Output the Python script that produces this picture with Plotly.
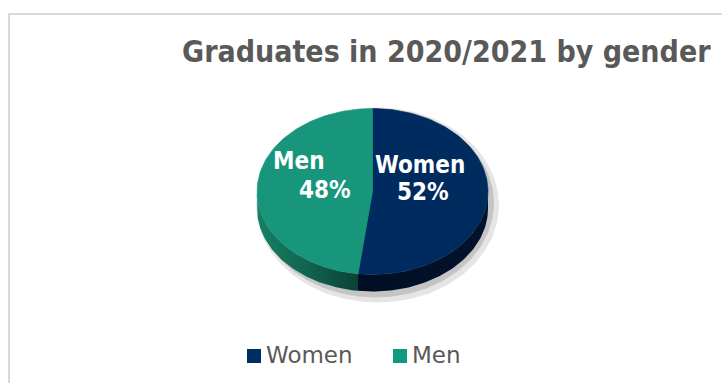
import numpy as np
import plotly.graph_objects as go

# ---- data ----
categories = ["Women", "Men"]
values = [52, 48]
top_colors = ["#002B5E", "#17967B"]
legend_colors = ["#002D62", "#129A80"]
side_scales = [
    [[0, "#010E22"], [1, "#03132C"]],
    [[0, "#178066"], [0.5, "#11634F"], [1, "#0B4236"]],
]
title_text = "Graduates in 2020/2021 by gender"

# ---- geometry (pixel space) ----
W, H = 722, 383
cx, cy, rx, ry, depth = 372.5, 191.5, 115.5, 83.0, 17.0

def pt(phi, dy=0.0):
    r = np.radians(phi)
    return cx + rx * np.sin(r), cy - ry * np.cos(r) + dy

total = float(sum(values))
bounds = [0.0]
for v in values:
    bounds.append(bounds[-1] + v / total * 360.0)

fig = go.Figure()

# soft shadow
for off, op, grow in [(5, 0.10, 6), (3, 0.14, 3)]:
    t = np.linspace(0, 360, 200)
    xs = cx + off + (rx + grow) * np.sin(np.radians(t))
    ys = cy + depth / 2 + off + (ry + depth / 2 + grow) * np.cos(np.radians(t))
    fig.add_trace(go.Scatter(x=xs, y=ys, fill="toself", mode="lines",
                             line=dict(width=0), fillcolor=f"rgba(0,0,0,{op})",
                             hoverinfo="skip", showlegend=False))

# sides (front visible part: 90..270 degrees)
for i in range(len(values)):
    a0, a1 = max(bounds[i], 90.0), min(bounds[i + 1], 270.0)
    if a1 <= a0:
        continue
    t = np.linspace(a0, a1, 80)
    x_top, y_top = pt(t)
    x_bot, y_bot = pt(t[::-1], depth)
    xs = np.concatenate([x_top, x_bot, x_top[:1]])
    ys = np.concatenate([y_top, y_bot, y_top[:1]])
    fig.add_trace(go.Scatter(x=xs, y=ys, fill="toself", mode="lines",
                             line=dict(width=0),
                             fillgradient=dict(type="horizontal", colorscale=side_scales[i]),
                             hoverinfo="skip", showlegend=False))

# top faces
for i in range(len(values)):
    t = np.linspace(bounds[i], bounds[i + 1], 120)
    xa, ya = pt(t)
    xs = np.concatenate([[cx], xa, [cx]])
    ys = np.concatenate([[cy], ya, [cy]])
    fig.add_trace(go.Scatter(x=xs, y=ys, fill="toself", mode="lines",
                             line=dict(width=0.6, color=top_colors[i]), fillcolor=top_colors[i],
                             name=categories[i], hoverinfo="skip", showlegend=False))

# data labels
label_font = dict(family="DejaVu Sans Condensed, DejaVu Sans", size=24, color="white")
label_pos = [  # (name x, name y, pct x, pct y)
    (419.5, 165, 423, 192),
    (298.5, 161, 324.5, 190),
]
for i, c in enumerate(categories):
    pct = f"{round(values[i] / total * 100)}%"
    nx, ny, px, py = label_pos[i]
    fig.add_annotation(x=nx, y=ny, xref="x", yref="y", text=f"<b>{c}</b>", showarrow=False,
                       font=label_font, xanchor="center", yanchor="middle")
    fig.add_annotation(x=px, y=py, xref="x", yref="y", text=f"<b>{pct}</b>", showarrow=False,
                       font=label_font, xanchor="center", yanchor="middle")

# title
fig.add_annotation(x=180, y=51, xref="x", yref="y", text=f"<b>{title_text}</b>", showarrow=False,
                   font=dict(family="DejaVu Sans Condensed, DejaVu Sans", size=30, color="#595959"),
                   xanchor="left", yanchor="middle")

# legend (manual)
leg_sq_x = [254, 400]
leg_y = 356
fig.add_trace(go.Scatter(x=leg_sq_x, y=[leg_y] * 2, mode="markers",
                         marker=dict(symbol="square", size=14, color=legend_colors, line=dict(width=0)),
                         hoverinfo="skip", showlegend=False))
for i, c in enumerate(categories):
    fig.add_annotation(x=leg_sq_x[i] + 10, y=leg_y - 1, xref="x", yref="y", text=c, showarrow=False,
                       font=dict(family="DejaVu Sans", size=23, color="#595959"),
                       xanchor="left", yanchor="middle")

# chart border
fig.add_shape(type="line", xref="x", yref="y", x0=8, x1=W + 5, y0=14, y1=14,
              line=dict(color="#D9D9D9", width=2))
fig.add_shape(type="line", xref="x", yref="y", x0=9, x1=9, y0=13, y1=H + 5,
              line=dict(color="#D9D9D9", width=2))

fig.update_layout(
    width=W, height=H, margin=dict(l=0, r=0, t=0, b=0),
    paper_bgcolor="white", plot_bgcolor="white",
    xaxis=dict(range=[0, W], visible=False, fixedrange=True),
    yaxis=dict(range=[H, 0], visible=False, fixedrange=True),
    showlegend=False,
)

fig.write_html("out.html")
